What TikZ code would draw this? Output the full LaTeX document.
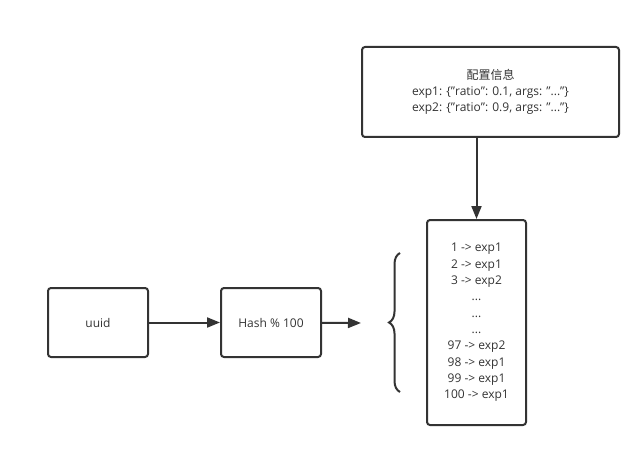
\documentclass[tikz,border=0pt]{standalone}
\usepackage{fontspec}
\setmainfont{Open Sans}
\newfontfamily\cjk{Noto Sans CJK SC}
\newcommand{\qt}{\symbol{34}}
\usetikzlibrary{arrows.meta,decorations.pathreplacing}
\definecolor{ink}{HTML}{333333}
\begin{document}
\begin{tikzpicture}
                [x=1pt, y=-1pt,
                box/.style={draw=ink, line width=2pt, rounded corners=3pt, text=ink, align=center, inner sep=0pt, font=\fontsize{12}{16.3}\selectfont},
                link/.style={draw=ink, line width=2pt, -{Triangle[length=13pt, width=10pt]}},]

                \useasboundingbox (0,0) rectangle (623,457);

                \node[box, minimum width=100pt, minimum height=69pt] (uuid) at (98,322.5) {uuid};
                \node[box, minimum width=100pt, minimum height=69pt] (hash) at (271,322.5) {Hash \% 100};
                \node[box, minimum width=257pt, minimum height=90pt] (conf) at (490.5,92) {{\cjk 配置信息}\\exp1: \{\qt ratio\qt: 0.1, args: \qt...\qt\}\\exp2: \{\qt ratio\qt: 0.9, args: \qt...\qt\}};
                \node[box, minimum width=99pt, minimum height=205pt] (list) at (476.5,322.5) {1 -> exp1\\2 -> exp1\\3 -> exp2\\...\\...\\...\\97 -> exp2\\98 -> exp1\\99 -> exp1\\100 -> exp1};
                \coordinate (tip) at (361,323);

                \draw[link] (uuid) -- (hash);
                \draw[link] (hash) -- (tip);
                \draw[link] (conf.south -| list.north) -- (list.north);
                \draw[ink, line width=2pt, decorate, decoration={brace, amplitude=11pt}] (400,392) -- (400,253);
  
            \end{tikzpicture}
\end{document}
